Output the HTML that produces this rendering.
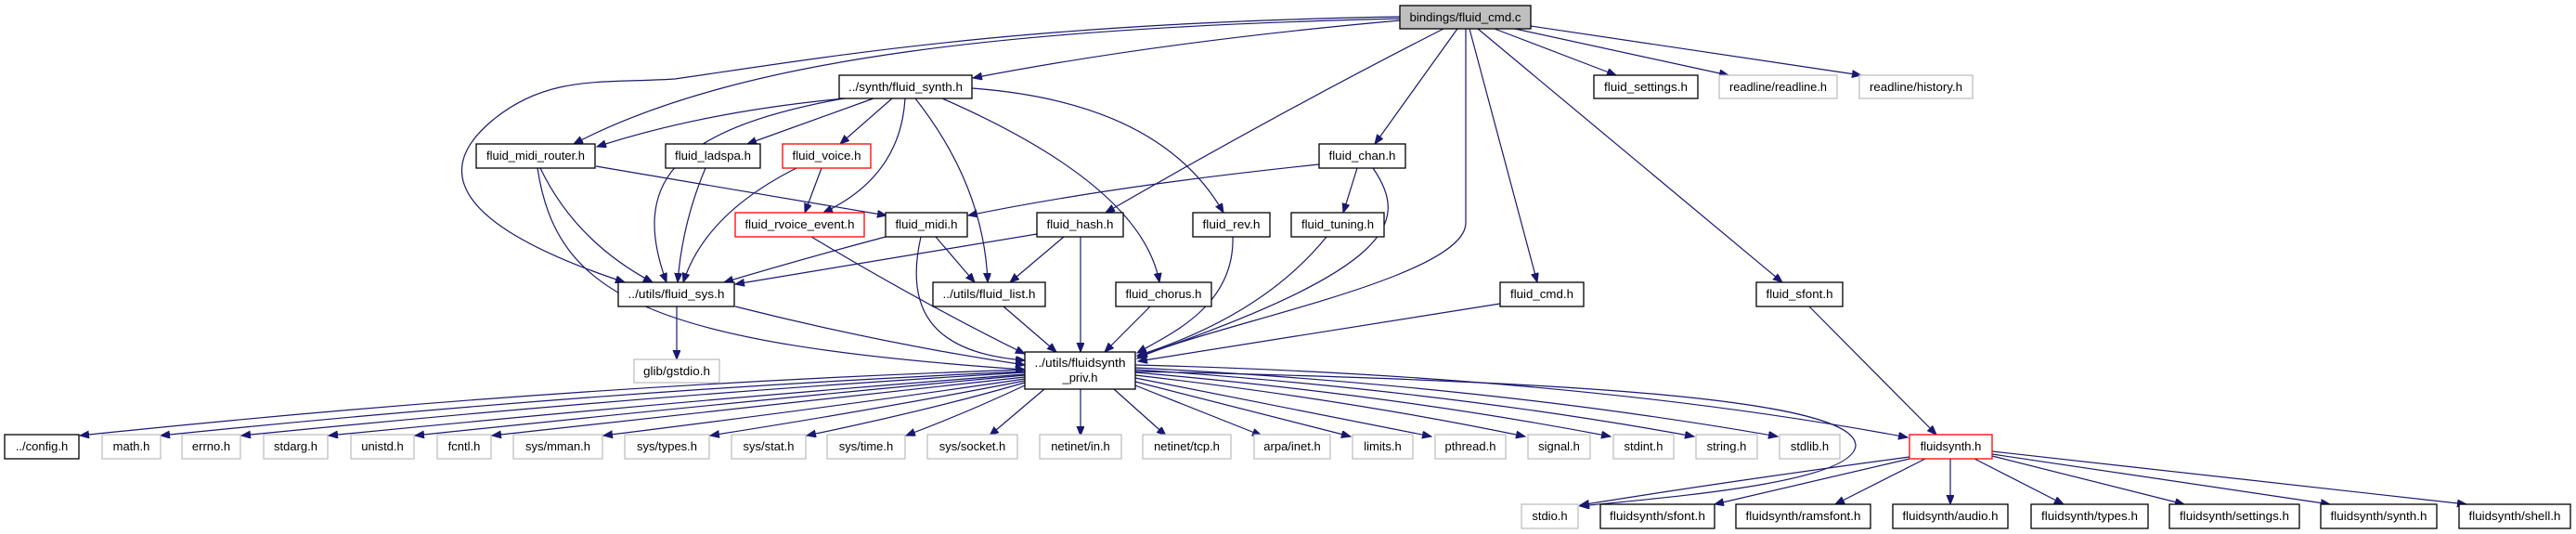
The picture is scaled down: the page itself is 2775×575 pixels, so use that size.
<!DOCTYPE html>
<html><head><meta charset="utf-8"><style>
html,body{margin:0;padding:0;background:#fff;}
svg{display:block;}
text{font-family:"Liberation Sans",Arial,sans-serif;font-size:13px;fill:#000;}
.e{fill:none;stroke:#191970;stroke-width:1.2;marker-end:url(#a);}
.n{fill:#fff;stroke:#000;stroke-width:1.3;}
.g{fill:#fff;stroke:#bfbfbf;stroke-width:1.3;}
.r{fill:#fff;stroke:#ff0000;stroke-width:1.3;}
</style></head><body>
<svg width="2775" height="575" viewBox="0 0 2775 575" xmlns="http://www.w3.org/2000/svg">
<defs><marker id="a" markerUnits="userSpaceOnUse" markerWidth="11" markerHeight="9" refX="10" refY="4" orient="auto"><path d="M0,0 L10,4 L0,8 z" fill="#191970" stroke="#191970"/></marker></defs>
<g>
<!-- cmd.c edges -->
<path class="e" d="M1508,22 Q1250,45 1048,84"/>
<path class="e" d="M1508,20 C1100,30 800,60 618,155"/>
<path class="e" d="M1508,18 C1100,25 900,60 727,85 C650,90 590,80 530,130 C470,180 480,240 673,304"/>
<path class="e" d="M1555,31 Q1380,120 1191,229"/>
<path class="e" d="M1570,31 L1481,155"/>
<path class="e" d="M1579,31 L1579,240 C1579,300 1300,350 1225,386"/>
<path class="e" d="M1583,31 L1656,304"/>
<path class="e" d="M1592,31 L1920,304"/>
<path class="e" d="M1610,31 L1741,81"/>
<path class="e" d="M1632,31 L1862,81"/>
<path class="e" d="M1649,28 L2005,81"/>
<!-- synth edges -->
<path class="e" d="M910,106 Q760,120 643,158"/>
<path class="e" d="M909,106 C720,140 680,200 718,304"/>
<path class="e" d="M941,106 L805,155"/>
<path class="e" d="M961,106 L905,155"/>
<path class="e" d="M975,106 Q970,190 887,229"/>
<path class="e" d="M986,106 Q1060,200 1064,304"/>
<path class="e" d="M1015,106 Q1230,200 1249,304"/>
<path class="e" d="M1047,95 Q1250,110 1318,229"/>
<!-- midi_router -->
<path class="e" d="M642,179 L955,232"/>
<path class="e" d="M582,181 Q620,260 703,304"/>
<path class="e" d="M579,181 C600,320 700,370 1104,398"/>
<path class="e" d="M760,181 Q735,240 730,304"/>
<path class="e" d="M858,181 Q760,230 736,304"/>
<path class="e" d="M885,181 L867,229"/>
<path class="e" d="M874,255 Q1000,330 1104,381"/>
<!-- midi -->
<path class="e" d="M954,255 Q860,280 780,304"/>
<path class="e" d="M1008,255 L1050,304"/>
<path class="e" d="M992,255 C975,330 1000,380 1104,388"/>
<!-- hash -->
<path class="e" d="M1117,252 Q950,280 792,306"/>
<path class="e" d="M1146,255 L1088,304"/>
<path class="e" d="M1164,255 L1164,379"/>
<path class="e" d="M1328,255 C1330,330 1260,360 1225,380"/>
<!-- chan -->
<path class="e" d="M1421,177 Q1200,200 1043,232"/>
<path class="e" d="M1462,181 L1447,229"/>
<path class="e" d="M1479,181 C1520,240 1500,290 1226,384"/>
<path class="e" d="M1429,255 Q1360,340 1225,383"/>
<!-- level 4 -->
<path class="e" d="M729,330 L729,387"/>
<path class="e" d="M792,330 Q950,370 1104,393"/>
<path class="e" d="M1081,330 L1138,379"/>
<path class="e" d="M1239,330 L1190,379"/>
<path class="e" d="M1616,327 L1226,389"/>
<path class="e" d="M1949,330 L2086,468"/>
<!-- priv to bottom row -->
<path class="e" d="M1104,398 Q600,415 86,469"/>
<path class="e" d="M1104,400 Q650,420 173,469"/>
<path class="e" d="M1104,401 Q700,425 260,469"/>
<path class="e" d="M1104,403 Q750,430 354,469"/>
<path class="e" d="M1104,404 Q800,432 447,469"/>
<path class="e" d="M1104,406 Q850,435 530,469"/>
<path class="e" d="M1104,408 Q900,438 650,469"/>
<path class="e" d="M1104,410 Q950,440 765,469"/>
<path class="e" d="M1104,412 Q1000,442 869,469"/>
<path class="e" d="M1104,415 Q1040,445 976,469"/>
<path class="e" d="M1125,419 L1066,469"/>
<path class="e" d="M1164,419 L1164,469"/>
<path class="e" d="M1200,419 L1256,469"/>
<path class="e" d="M1223,415 L1359,469"/>
<path class="e" d="M1223,411 L1455,470"/>
<path class="e" d="M1223,407 L1542,470"/>
<path class="e" d="M1223,404 Q1450,430 1643,470"/>
<path class="e" d="M1223,401 Q1500,425 1735,470"/>
<path class="e" d="M1223,398 Q1550,420 1825,470"/>
<path class="e" d="M1223,396 Q1600,415 1915,470"/>
<path class="e" d="M1223,393 Q1700,405 2055,471"/>
<path class="e" d="M1223,400 C1700,410 2000,430 1999,480 C1995,520 1800,535 1702,545"/>
<!-- fluidsynth.h -->
<path class="e" d="M2057,492 Q1850,520 1702,544"/>
<path class="e" d="M2057,494 L1847,543"/>
<path class="e" d="M2074,494 L1977,543"/>
<path class="e" d="M2101,494 L2101,543"/>
<path class="e" d="M2127,494 L2223,543"/>
<path class="e" d="M2146,491 L2353,543"/>
<path class="e" d="M2146,489 L2510,543"/>
<path class="e" d="M2146,486 L2657,543"/>
</g>
<g>
<rect x="1508" y="6" width="141" height="25" fill="#bfbfbf" stroke="#000" stroke-width="1.3"/><text x="1578.5" y="23" text-anchor="middle" textLength="120" lengthAdjust="spacingAndGlyphs">bindings/fluid_cmd.c</text>
<rect class="n" x="904" y="81" width="143" height="25"/><text x="975.5" y="98" text-anchor="middle" textLength="123" lengthAdjust="spacingAndGlyphs">../synth/fluid_synth.h</text>
<rect class="n" x="1717" y="81" width="112" height="25"/><text x="1773" y="98" text-anchor="middle" textLength="90" lengthAdjust="spacingAndGlyphs">fluid_settings.h</text>
<rect class="g" x="1852" y="81" width="127" height="25"/><text x="1915.5" y="98" text-anchor="middle" textLength="105" lengthAdjust="spacingAndGlyphs">readline/readline.h</text>
<rect class="g" x="2003" y="81" width="122" height="25"/><text x="2064" y="98" text-anchor="middle" textLength="100" lengthAdjust="spacingAndGlyphs">readline/history.h</text>
<rect class="n" x="513" y="155" width="128" height="26"/><text x="577" y="172" text-anchor="middle" textLength="106" lengthAdjust="spacingAndGlyphs">fluid_midi_router.h</text>
<rect class="n" x="717" y="155" width="102" height="26"/><text x="768" y="172" text-anchor="middle" textLength="82" lengthAdjust="spacingAndGlyphs">fluid_ladspa.h</text>
<rect class="r" x="843" y="155" width="95" height="26"/><text x="890.5" y="172" text-anchor="middle" textLength="74" lengthAdjust="spacingAndGlyphs">fluid_voice.h</text>
<rect class="n" x="1421" y="155" width="93" height="26"/><text x="1467.5" y="172" text-anchor="middle" textLength="72" lengthAdjust="spacingAndGlyphs">fluid_chan.h</text>
<rect class="r" x="792" y="229" width="139" height="26"/><text x="861.5" y="246" text-anchor="middle" textLength="118" lengthAdjust="spacingAndGlyphs">fluid_rvoice_event.h</text>
<rect class="n" x="954" y="229" width="88" height="26"/><text x="998" y="246" text-anchor="middle" textLength="67" lengthAdjust="spacingAndGlyphs">fluid_midi.h</text>
<rect class="n" x="1117" y="229" width="93" height="26"/><text x="1163.5" y="246" text-anchor="middle" textLength="72" lengthAdjust="spacingAndGlyphs">fluid_hash.h</text>
<rect class="n" x="1285" y="229" width="83" height="26"/><text x="1326.5" y="246" text-anchor="middle" textLength="62" lengthAdjust="spacingAndGlyphs">fluid_rev.h</text>
<rect class="n" x="1391" y="229" width="100" height="26"/><text x="1441" y="246" text-anchor="middle" textLength="78" lengthAdjust="spacingAndGlyphs">fluid_tuning.h</text>
<rect class="n" x="666" y="304" width="125" height="26"/><text x="728.5" y="321" text-anchor="middle" textLength="104" lengthAdjust="spacingAndGlyphs">../utils/fluid_sys.h</text>
<rect class="n" x="1005" y="304" width="121" height="26"/><text x="1065.5" y="321" text-anchor="middle" textLength="100" lengthAdjust="spacingAndGlyphs">../utils/fluid_list.h</text>
<rect class="n" x="1202" y="304" width="103" height="26"/><text x="1253.5" y="321" text-anchor="middle" textLength="82" lengthAdjust="spacingAndGlyphs">fluid_chorus.h</text>
<rect class="n" x="1616" y="304" width="90" height="26"/><text x="1661" y="321" text-anchor="middle" textLength="68" lengthAdjust="spacingAndGlyphs">fluid_cmd.h</text>
<rect class="n" x="1892" y="304" width="93" height="26"/><text x="1938.5" y="321" text-anchor="middle" textLength="72" lengthAdjust="spacingAndGlyphs">fluid_sfont.h</text>
<rect class="n" x="1104" y="379" width="119" height="40"/><text x="1163.5" y="395" text-anchor="middle" textLength="98" lengthAdjust="spacingAndGlyphs">../utils/fluidsynth</text><text x="1163.5" y="411" text-anchor="middle">_priv.h</text>
<rect class="g" x="683" y="387" width="92" height="25"/><text x="729" y="404" text-anchor="middle" textLength="72" lengthAdjust="spacingAndGlyphs">glib/gstdio.h</text>
<rect class="n" x="5" y="468" width="80" height="26"/><text x="45" y="485" text-anchor="middle">../config.h</text>
<rect class="g" x="110" y="468" width="63" height="26"/><text x="141.5" y="485" text-anchor="middle">math.h</text>
<rect class="g" x="196" y="468" width="63" height="26"/><text x="227.5" y="485" text-anchor="middle">errno.h</text>
<rect class="g" x="284" y="468" width="69" height="26"/><text x="318.5" y="485" text-anchor="middle">stdarg.h</text>
<rect class="g" x="378" y="468" width="68" height="26"/><text x="412" y="485" text-anchor="middle">unistd.h</text>
<rect class="g" x="471" y="468" width="58" height="26"/><text x="500" y="485" text-anchor="middle">fcntl.h</text>
<rect class="g" x="553" y="468" width="96" height="26"/><text x="601" y="485" text-anchor="middle">sys/mman.h</text>
<rect class="g" x="673" y="468" width="91" height="26"/><text x="718.5" y="485" text-anchor="middle">sys/types.h</text>
<rect class="g" x="788" y="468" width="80" height="26"/><text x="828" y="485" text-anchor="middle">sys/stat.h</text>
<rect class="g" x="891" y="468" width="84" height="26"/><text x="933" y="485" text-anchor="middle">sys/time.h</text>
<rect class="g" x="999" y="468" width="97" height="26"/><text x="1047.5" y="485" text-anchor="middle">sys/socket.h</text>
<rect class="g" x="1120" y="468" width="88" height="26"/><text x="1164" y="485" text-anchor="middle">netinet/in.h</text>
<rect class="g" x="1231" y="468" width="95" height="26"/><text x="1278.5" y="485" text-anchor="middle">netinet/tcp.h</text>
<rect class="g" x="1351" y="468" width="82" height="26"/><text x="1392" y="485" text-anchor="middle">arpa/inet.h</text>
<rect class="g" x="1457" y="468" width="65" height="26"/><text x="1489.5" y="485" text-anchor="middle">limits.h</text>
<rect class="g" x="1546" y="468" width="76" height="26"/><text x="1584" y="485" text-anchor="middle">pthread.h</text>
<rect class="g" x="1646" y="468" width="67" height="26"/><text x="1679.5" y="485" text-anchor="middle">signal.h</text>
<rect class="g" x="1738" y="468" width="65" height="26"/><text x="1770.5" y="485" text-anchor="middle">stdint.h</text>
<rect class="g" x="1827" y="468" width="66" height="26"/><text x="1860" y="485" text-anchor="middle">string.h</text>
<rect class="g" x="1917" y="468" width="65" height="26"/><text x="1949.5" y="485" text-anchor="middle">stdlib.h</text>
<rect class="r" x="2057" y="468" width="89" height="26"/><text x="2101.5" y="485" text-anchor="middle">fluidsynth.h</text>
<rect class="g" x="1639" y="543" width="61" height="26"/><text x="1669.5" y="560" text-anchor="middle">stdio.h</text>
<rect class="n" x="1724" y="543" width="123" height="26"/><text x="1785.5" y="560" text-anchor="middle" textLength="103" lengthAdjust="spacingAndGlyphs">fluidsynth/sfont.h</text>
<rect class="n" x="1870" y="543" width="145" height="26"/><text x="1942.5" y="560" text-anchor="middle" textLength="124" lengthAdjust="spacingAndGlyphs">fluidsynth/ramsfont.h</text>
<rect class="n" x="2039" y="543" width="124" height="26"/><text x="2101" y="560" text-anchor="middle" textLength="103" lengthAdjust="spacingAndGlyphs">fluidsynth/audio.h</text>
<rect class="n" x="2188" y="543" width="126" height="26"/><text x="2251" y="560" text-anchor="middle" textLength="104" lengthAdjust="spacingAndGlyphs">fluidsynth/types.h</text>
<rect class="n" x="2337" y="543" width="140" height="26"/><text x="2407" y="560" text-anchor="middle" textLength="118" lengthAdjust="spacingAndGlyphs">fluidsynth/settings.h</text>
<rect class="n" x="2500" y="543" width="125" height="26"/><text x="2562.5" y="560" text-anchor="middle" textLength="104" lengthAdjust="spacingAndGlyphs">fluidsynth/synth.h</text>
<rect class="n" x="2649" y="543" width="120" height="26"/><text x="2709" y="560" text-anchor="middle" textLength="99" lengthAdjust="spacingAndGlyphs">fluidsynth/shell.h</text>
</g>
</svg>
</body></html>
